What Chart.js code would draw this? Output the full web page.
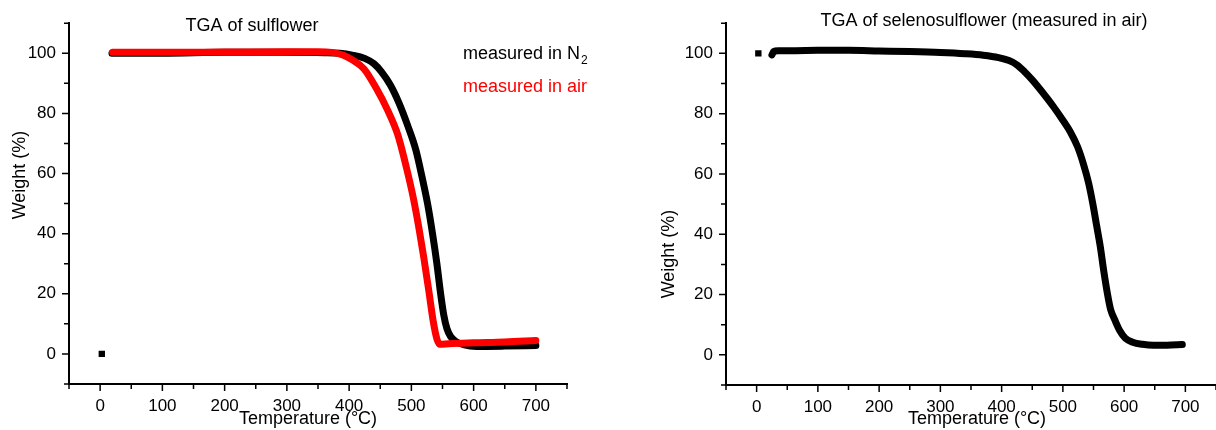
<!DOCTYPE html>
<html lang="en">
<head>
    <meta charset="UTF-8">
    <title>TGA of sulflower and selenosulflower</title>
    <style>
        html, body { margin: 0; padding: 0; background: #fff; overflow: hidden; }
        .panel { position: absolute; top: 0; height: 430px; }
        #left { left: 0; width: 608px; }
        #right { left: 608px; width: 620px; }
    </style>
    <script src="https://cdn.jsdelivr.net/npm/chart.js@4.4.1/dist/chart.umd.min.js"></script>
</head>
<body>
<div class="panel" id="left"><canvas id="sulfChart" width="608" height="430"></canvas></div>
<div class="panel" id="right"><canvas id="selenoChart" width="620" height="430"></canvas></div>
<script>
    // sulflower, measured in N2 (black)
    const n2Temp   = [19, 100, 200, 300, 360, 385, 405, 425, 440, 452, 466, 480, 494, 507, 517, 526, 534, 541, 547, 552, 557, 563, 571, 585, 605, 650, 700];
    const n2Weight = [100, 100, 100.3, 100.3, 100.2, 100, 99.4, 98.3, 96.5, 93.8, 89.5, 83.5, 76, 68, 59, 50, 40, 30, 20, 13, 8.5, 5.8, 4.2, 3, 2.5, 2.6, 2.8];

    // sulflower, measured in air (red)
    const airTemp   = [20, 100, 200, 300, 350, 372, 390, 405, 424, 443, 462, 478, 492, 503, 512, 520, 528, 535, 541, 546, 560, 600, 650, 700];
    const airWeight = [100.3, 100.3, 100.4, 100.5, 100.5, 100.3, 99.4, 97.8, 94.8, 88.6, 81, 73, 62, 52, 42, 32, 21, 11, 5, 3.2, 3.4, 3.7, 4.0, 4.5];

    // selenosulflower, measured in air
    const selTemp   = [25, 28, 35, 60, 100, 150, 200, 250, 300, 340, 370, 395, 412, 425, 437, 450, 465, 485, 500, 512, 524, 534, 542, 549, 555, 561, 567, 573, 578, 585, 593, 602, 614, 630, 648, 670, 695];
    const selWeight = [99.5, 100.6, 100.9, 100.9, 101, 101, 100.8, 100.6, 100.3, 99.9, 99.4, 98.6, 97.6, 96.2, 94, 91.2, 87.5, 82.2, 77.8, 74, 69, 63, 57, 50, 43, 36, 27.5, 20, 15, 11.5, 8, 5.5, 4.2, 3.5, 3.2, 3.2, 3.4];

    // single stray points at the start of each run
    const sulfStray = [{x: 2.7, y: 0}];
    const selStray  = [{x: 2.8, y: 100}];

    const FONT = "'Liberation Sans', Arial, sans-serif";

    const toPoints = (xs, ys) => xs.map((x, i) => ({x: x, y: ys[i]}));

    function curve(xs, ys, color) {
        return {
            data: toPoints(xs, ys),
            showLine: true,
            borderColor: color,
            borderWidth: 7,
            borderCapStyle: 'round',
            borderJoinStyle: 'round',
            pointRadius: 0,
            cubicInterpolationMode: 'monotone',
            fill: false
        };
    }

    function stray(points) {
        return {
            data: points,
            showLine: false,
            pointStyle: 'rect',
            pointRadius: 4.5,
            backgroundColor: '#000',
            borderWidth: 0
        };
    }

    function axes(yWidth, xHeight) {
        return {
            x: {
                type: 'linear', min: -50, max: 750,
                grid: {display: false, drawTicks: false},
                border: {display: true, color: '#000', width: 2},
                ticks: {
                    stepSize: 50, padding: 12, color: '#000', maxRotation: 0, autoSkip: false,
                    font: {family: FONT, size: 17},
                    callback: v => v % 100 === 0 ? v : ''
                },
                afterFit: s => { s.height = xHeight; }
            },
            y: {
                type: 'linear', min: -10, max: 110,
                grid: {display: false, drawTicks: false},
                border: {display: true, color: '#000', width: 2},
                ticks: {
                    stepSize: 10, padding: 13, color: '#000', autoSkip: false,
                    font: {family: FONT, size: 17},
                    callback: v => v % 20 === 0 ? v : ''
                },
                afterFit: s => { s.width = yWidth; }
            }
        };
    }

    // outward tick marks, long ones at labelled values
    const tickMarks = {
        id: 'tickMarks',
        afterDraw(chart) {
            const ctx = chart.ctx, x = chart.scales.x, y = chart.scales.y;
            ctx.save();
            ctx.strokeStyle = '#000';
            ctx.lineWidth = 1.5;
            ctx.beginPath();
            x.ticks.forEach(t => {
                const px = x.getPixelForValue(t.value);
                ctx.moveTo(px, x.top);
                ctx.lineTo(px, x.top + (t.value % 100 === 0 ? 7 : 5));
            });
            y.ticks.forEach(t => {
                const py = y.getPixelForValue(t.value);
                ctx.moveTo(y.right, py);
                ctx.lineTo(y.right - (t.value % 20 === 0 ? 7 : 5), py);
            });
            ctx.stroke();
            ctx.restore();
        }
    };

    // titles, axis titles and the text legend
    const panelText = {
        id: 'panelText',
        afterDraw(chart, args, opts) {
            const ctx = chart.ctx;
            (opts.items || []).forEach(it => {
                ctx.save();
                ctx.fillStyle = it.color || '#000';
                ctx.font = (it.size || 18) + 'px ' + FONT;
                ctx.textBaseline = 'middle';
                ctx.textAlign = it.align || 'center';
                ctx.translate(it.x, it.y);
                if (it.rotate) ctx.rotate(it.rotate);
                ctx.fillText(it.text, 0, 0);
                if (it.sub) {
                    const w = ctx.measureText(it.text).width;
                    ctx.font = '12px ' + FONT;
                    ctx.textAlign = 'left';
                    ctx.fillText(it.sub, w + 1, 7);
                }
                ctx.restore();
            });
        }
    };

    new Chart(document.getElementById('sulfChart'), {
        type: 'scatter',
        data: {
            datasets: [
                curve(airTemp, airWeight, '#ff0000'),
                curve(n2Temp, n2Weight, '#000000'),
                stray(sulfStray)
            ]
        },
        options: {
            responsive: false,
            animation: false,
            events: [],
            layout: {padding: {top: 17, right: 41, left: 0, bottom: 0}},
            scales: axes(69, 46),
            plugins: {
                legend: {display: false},
                tooltip: {enabled: false},
                panelText: {
                    items: [
                        {text: 'TGA of sulflower', x: 252, y: 26},
                        {text: 'measured in N', sub: '2', x: 463, y: 54, align: 'left'},
                        {text: 'measured in air', x: 463, y: 87, align: 'left', color: '#ff0000'},
                        {text: 'Weight (%)', x: 20, y: 175, rotate: -Math.PI / 2},
                        {text: 'Temperature (°C)', x: 308, y: 419}
                    ]
                }
            }
        },
        plugins: [tickMarks, panelText]
    });

    new Chart(document.getElementById('selenoChart'), {
        type: 'scatter',
        data: {
            datasets: [
                curve(selTemp, selWeight, '#000000'),
                stray(selStray)
            ]
        },
        options: {
            responsive: false,
            animation: false,
            events: [],
            layout: {padding: {top: 20, right: 8, left: 0, bottom: 0}},
            scales: axes(118, 45),
            plugins: {
                legend: {display: false},
                tooltip: {enabled: false},
                panelText: {
                    items: [
                        {text: 'TGA of selenosulflower (measured in air)', x: 376, y: 21},
                        {text: 'Weight (%)', x: 61, y: 254, rotate: -Math.PI / 2},
                        {text: 'Temperature (°C)', x: 369, y: 419}
                    ]
                }
            }
        },
        plugins: [tickMarks, panelText]
    });
</script>
</body>
</html>
